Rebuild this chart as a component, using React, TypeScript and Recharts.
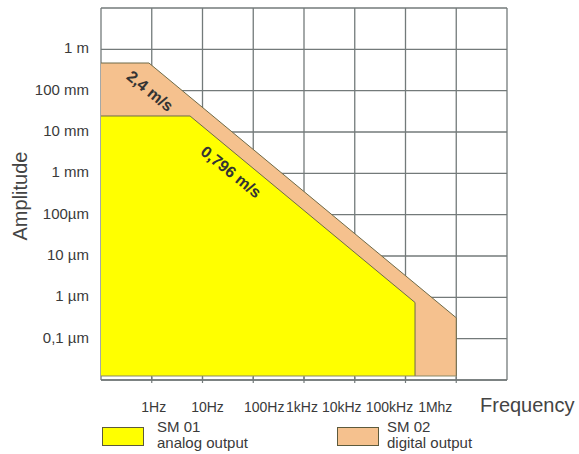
import React from "react";
import {
  ComposedChart,
  Area,
  XAxis,
  YAxis,
  CartesianGrid,
  ReferenceDot,
  ReferenceLine,
  Legend,
} from "recharts";

// ---- data ----
const freqTicks = [0.1, 1, 10, 100, 1e3, 1e4, 1e5, 1e6, 1e7];
const freqTickLabels = ["", "1Hz", "10Hz", "100Hz", "1kHz", "10kHz", "100kHz", "1Mhz", ""];
const ampTicks = [1e-8, 1e-7, 1e-6, 1e-5, 1e-4, 1e-3, 1e-2, 1e-1, 1, 10];
const ampTickLabels = ["", "0,1 µm", "1 µm", "10 µm", "100µm", "1 mm", "10 mm", "100 mm", "1 m", ""];

const BASE_AMP = 1.25e-8;

// SM 02 (digital output) envelope
const sm02Freq = [0.1, 0.88, 1e6, 1e6];
const sm02Amp = [0.467, 0.467, 3.2e-7, BASE_AMP];
// SM 01 (analog output) envelope
const sm01Freq = [0.1, 5.68, 1.54e5, 1.54e5];
const sm01Amp = [0.0244, 0.0244, 7.5e-7, BASE_AMP];

const velocityLabels = ["2,4 m/s", "0,796 m/s"];
const velocityLabelFreq = [0.925, 36.5];
const velocityLabelAmp = [0.098, 1.08e-3];

const seriesNames = ["SM 01", "SM 02"];
const seriesSubtitles = ["analog output", "digital output"];

// ---- styles ----
const YELLOW = "#ffff00";
const TAN = "#f5c18e";
const EDGE = "#6e6a48";
const GRID = "#737a7a";
const TEXT = "#3a3a3a";
const FONT = "'Liberation Sans', Arial, sans-serif";
const xLabelShift = [0, 2, 5, 11, -2, -13, -16, -21, 0];

const sm02Data = sm02Freq.map((f, i) => ({ f, amp: sm02Amp[i] }));
const sm01Data = sm01Freq.map((f, i) => ({ f, amp: sm01Amp[i] }));

const XTick = (props: any) => {
  const { x, y, payload } = props;
  const idx = Math.round(Math.log10(payload.value)) + 1;
  const label = freqTickLabels[idx];
  if (!label) return null;
  return (
    <g>
      <line x1={x} x2={x} y1={y - 3} y2={y + 3} stroke={GRID} strokeWidth={1.2} />
      <text
        x={x + xLabelShift[idx]}
        y={y + 32}
        textAnchor="middle"
        fontSize={14}
        fill={TEXT}
        fontFamily={FONT}
      >
        {label}
      </text>
    </g>
  );
};

const YTick = (props: any) => {
  const { x, y, payload } = props;
  const idx = Math.round(Math.log10(payload.value)) + 8;
  const label = ampTickLabels[idx];
  if (!label) return null;
  return (
    <text x={x} y={y + 4} textAnchor="end" fontSize={15} fill={TEXT} fontFamily={FONT}>
      {label}
    </text>
  );
};

const DiagLabel = (props: any) => {
  const { viewBox, text } = props;
  if (!viewBox) return null;
  const cx = viewBox.x + (viewBox.width || 0) / 2;
  const cy = viewBox.y + (viewBox.height || 0) / 2;
  return (
    <text
      x={cx}
      y={cy}
      transform={`rotate(39 ${cx} ${cy})`}
      textAnchor="middle"
      dominantBaseline="central"
      fontSize={16}
      fontWeight="bold"
      fill="#333"
      fontFamily={FONT}
    >
      {text}
    </text>
  );
};

const FreqLabel = (props: any) => {
  const { viewBox } = props;
  if (!viewBox) return null;
  return (
    <text
      x={viewBox.x + viewBox.width - 27}
      y={viewBox.y + 32}
      fontSize={20}
      fill="#444"
      fontFamily={FONT}
    >
      Frequency
    </text>
  );
};

const AmpLabel = (props: any) => {
  const { viewBox } = props;
  if (!viewBox) return null;
  const x = 27;
  const y = viewBox.y + viewBox.height / 2 + 2;
  return (
    <text
      x={x}
      y={y}
      transform={`rotate(-90 ${x} ${y})`}
      textAnchor="middle"
      fontSize={20}
      fill="#444"
      fontFamily={FONT}
    >
      Amplitude
    </text>
  );
};

const legendColors = [YELLOW, TAN];
const legendBoxLeft = [102, 337];
const legendTextLeft = [157, 387];

const LegendContent = () => (
  <div style={{ position: "relative", width: 579, height: 34, fontFamily: FONT }}>
    {seriesNames.map((name, i) => (
      <React.Fragment key={name}>
        <div
          style={{
            position: "absolute",
            left: legendBoxLeft[i],
            top: 7,
            width: 40,
            height: 17,
            background: legendColors[i],
            border: "1.5px solid #5c5a3c",
          }}
        />
        <div
          style={{
            position: "absolute",
            left: legendTextLeft[i],
            top: -1,
            fontSize: 15,
            lineHeight: "16px",
            color: TEXT,
            whiteSpace: "nowrap",
          }}
        >
          <div>{name}</div>
          <div>{seriesSubtitles[i]}</div>
        </div>
      </React.Fragment>
    ))}
  </div>
);

export default function App() {
  return (
    <div style={{ position: "absolute", left: 0, top: 0, width: 579, height: 454, background: "#fff" }}>
      <ComposedChart
        width={579}
        height={454}
        margin={{ top: 8, right: 72, left: 0, bottom: 0 }}
        style={{ fontFamily: FONT }}
      >
        <CartesianGrid stroke={GRID} strokeWidth={1.3} />
        <XAxis
          dataKey="f"
          type="number"
          scale="log"
          domain={[0.1, 1e7]}
          ticks={freqTicks}
          interval={0}
          height={74}
          tickSize={0}
          tickMargin={0}
          tickLine={false}
          axisLine={{ stroke: GRID, strokeWidth: 1.3 }}
          tick={<XTick />}
          label={<FreqLabel />}
          allowDataOverflow
        />
        <YAxis
          type="number"
          scale="log"
          domain={[1e-8, 10]}
          ticks={ampTicks}
          interval={0}
          width={101}
          tickSize={6}
          tickMargin={6}
          tickLine={false}
          axisLine={false}
          tick={<YTick />}
          label={<AmpLabel />}
          allowDataOverflow
        />
        <Area
          data={sm02Data}
          dataKey="amp"
          name="SM 02"
          type="linear"
          baseValue={BASE_AMP}
          fill={TAN}
          fillOpacity={1}
          stroke={EDGE}
          strokeWidth={1}
          dot={false}
          activeDot={false}
          isAnimationActive={false}
        />
        <Area
          data={sm01Data}
          dataKey="amp"
          name="SM 01"
          type="linear"
          baseValue={BASE_AMP}
          fill={YELLOW}
          fillOpacity={1}
          stroke={EDGE}
          strokeWidth={1}
          dot={false}
          activeDot={false}
          isAnimationActive={false}
        />
        <ReferenceLine
          segment={[
            { x: 0.1, y: BASE_AMP },
            { x: 1e6, y: BASE_AMP },
          ]}
          stroke="#8a8866"
          strokeWidth={1}
        />
        {velocityLabels.map((t, i) => (
          <ReferenceDot
            key={t}
            x={velocityLabelFreq[i]}
            y={velocityLabelAmp[i]}
            r={1}
            fill="none"
            stroke="none"
            label={<DiagLabel text={t} />}
          />
        ))}
        <Legend
          layout="vertical"
          align="center"
          verticalAlign="middle"
          content={<LegendContent />}
          wrapperStyle={{ position: "absolute", left: 0, top: 420, width: 579, height: 34, margin: 0 }}
        />
      </ComposedChart>
    </div>
  );
}
